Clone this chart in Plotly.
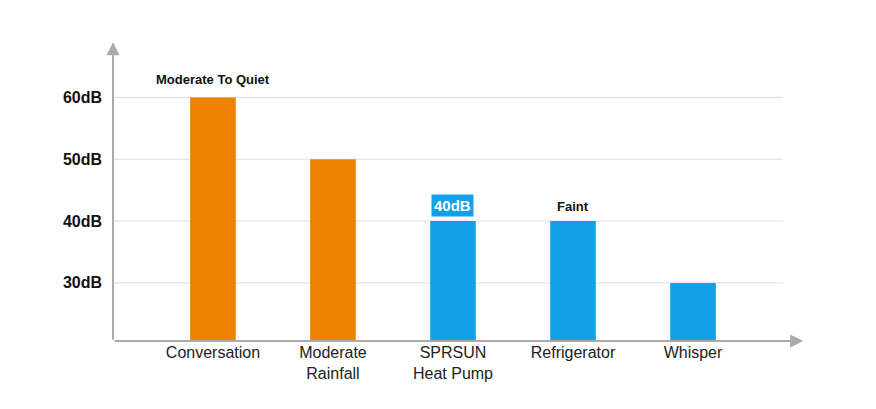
import plotly.graph_objects as go

categories = ["Conversation", "Moderate<br>Rainfall", "SPRSUN<br>Heat Pump", "Refrigerator", "Whisper"]
levels_db = [60, 50, 40, 40, 30]
bar_colors = ["#EE8200", "#EE8200", "#12A0E6", "#12A0E6", "#12A0E6"]
tick_vals = [30, 40, 50, 60]
tick_text = ["30dB", "40dB", "50dB", "60dB"]

x_pos = list(range(len(categories)))

fig = go.Figure()
fig.add_trace(go.Bar(x=x_pos, y=levels_db, marker_color=bar_colors, width=0.38,
                     marker_line_width=0, base=0))

# light gridlines
for v in tick_vals:
    fig.add_shape(type="line", xref="paper", yref="y", x0=0, x1=1, y0=v, y1=v,
                  line=dict(color="#DDDDDD", width=1), layer="below")

# axes with arrows (plot area is 670 x 293 px)
fig.add_annotation(xref="paper", yref="paper", axref="pixel", ayref="pixel",
                   x=1.03, y=0, ax=-690, ay=0, showarrow=True, arrowhead=2,
                   arrowsize=1.3, arrowwidth=2, arrowcolor="#AAAAAA", text="")
fig.add_annotation(xref="paper", yref="paper", axref="pixel", ayref="pixel",
                   x=0, y=1.02, ax=0, ay=299, showarrow=True, arrowhead=2,
                   arrowsize=1.3, arrowwidth=2, arrowcolor="#AAAAAA", text="")

# bar labels
fig.add_annotation(x=x_pos[0], y=levels_db[0], yshift=18, showarrow=False,
                   text="<b>Moderate To Quiet</b>", font=dict(size=13, color="#111"))
fig.add_annotation(x=x_pos[2], y=levels_db[2], yshift=16, showarrow=False,
                   text="<b>40dB</b>", bgcolor="#12A0E6", borderpad=2,
                   font=dict(size=15, color="white"))
fig.add_annotation(x=x_pos[3], y=levels_db[3], yshift=15, showarrow=False,
                   text="<b>Faint</b>", font=dict(size=13, color="#111"))

fig.update_layout(
    width=876, height=409,
    margin=dict(l=105, r=101, t=40, b=76),
    plot_bgcolor="white", paper_bgcolor="white",
    showlegend=False,
    font=dict(family="Liberation Sans, Arial", color="#222"),
    xaxis=dict(range=[-0.833, 4.75], tickvals=x_pos, ticktext=categories,
               tickfont=dict(size=16), showgrid=False, zeroline=False,
               ticks="", showline=False),
    yaxis=dict(range=[20.6, 68], tickvals=tick_vals, ticktext=tick_text,
               tickfont=dict(size=16, color="#111", weight="bold"),
               showgrid=False, zeroline=False, ticks="", ticklabelstandoff=10),
)

fig.write_html("out.html")
